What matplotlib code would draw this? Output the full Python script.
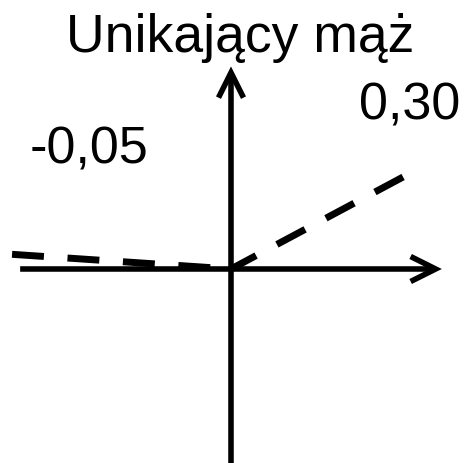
import matplotlib.pyplot as plt
from matplotlib.patches import FancyArrowPatch

plt.rcParams['font.family'] = ['Liberation Sans', 'DejaVu Sans']

title = "Unikający mąż"
# dashed segments either side of the origin
left_x = [-1.0, 0.0]
left_y = [0.067, 0.0]
right_x = [0.0, 0.795]
right_y = [0.0, 0.425]
slope_labels = ["-0,05", "0,30"]

fig = plt.figure(figsize=(4.69, 4.64), dpi=100)
ax = fig.add_axes([0, 0, 1, 1])
ax.set_xlim(-1.055, 1.087)
ax.set_ylim(-0.886, 1.233)
ax.axis('off')

# axes drawn as open arrows
for start, end in [((-0.963, 0), (0.963, 0)), ((0, -0.9), (0, 0.925))]:
    ax.add_patch(FancyArrowPatch(start, end, arrowstyle='->,head_length=18,head_width=9',
                                 mutation_scale=1, lw=4.0, color='black',
                                 shrinkA=0, shrinkB=0, joinstyle='miter', capstyle='butt'))

ax.plot(left_x, left_y, color='black', lw=5, linestyle=(0, (4.6, 3.4)), dash_capstyle='butt')
ax.plot(right_x, right_y, color='black', lw=5, linestyle=(0.5, (4.6, 3.4)), dash_capstyle='butt')

fig.text(0.511, 0.888, title, ha='center', va='baseline', fontsize=38.5)
fig.text(0.19, 0.6466, slope_labels[0], ha='center', va='baseline', fontsize=37.5)
fig.text(0.873, 0.7435, slope_labels[1], ha='center', va='baseline', fontsize=37.5)

fig.savefig('out.png', dpi=100)
